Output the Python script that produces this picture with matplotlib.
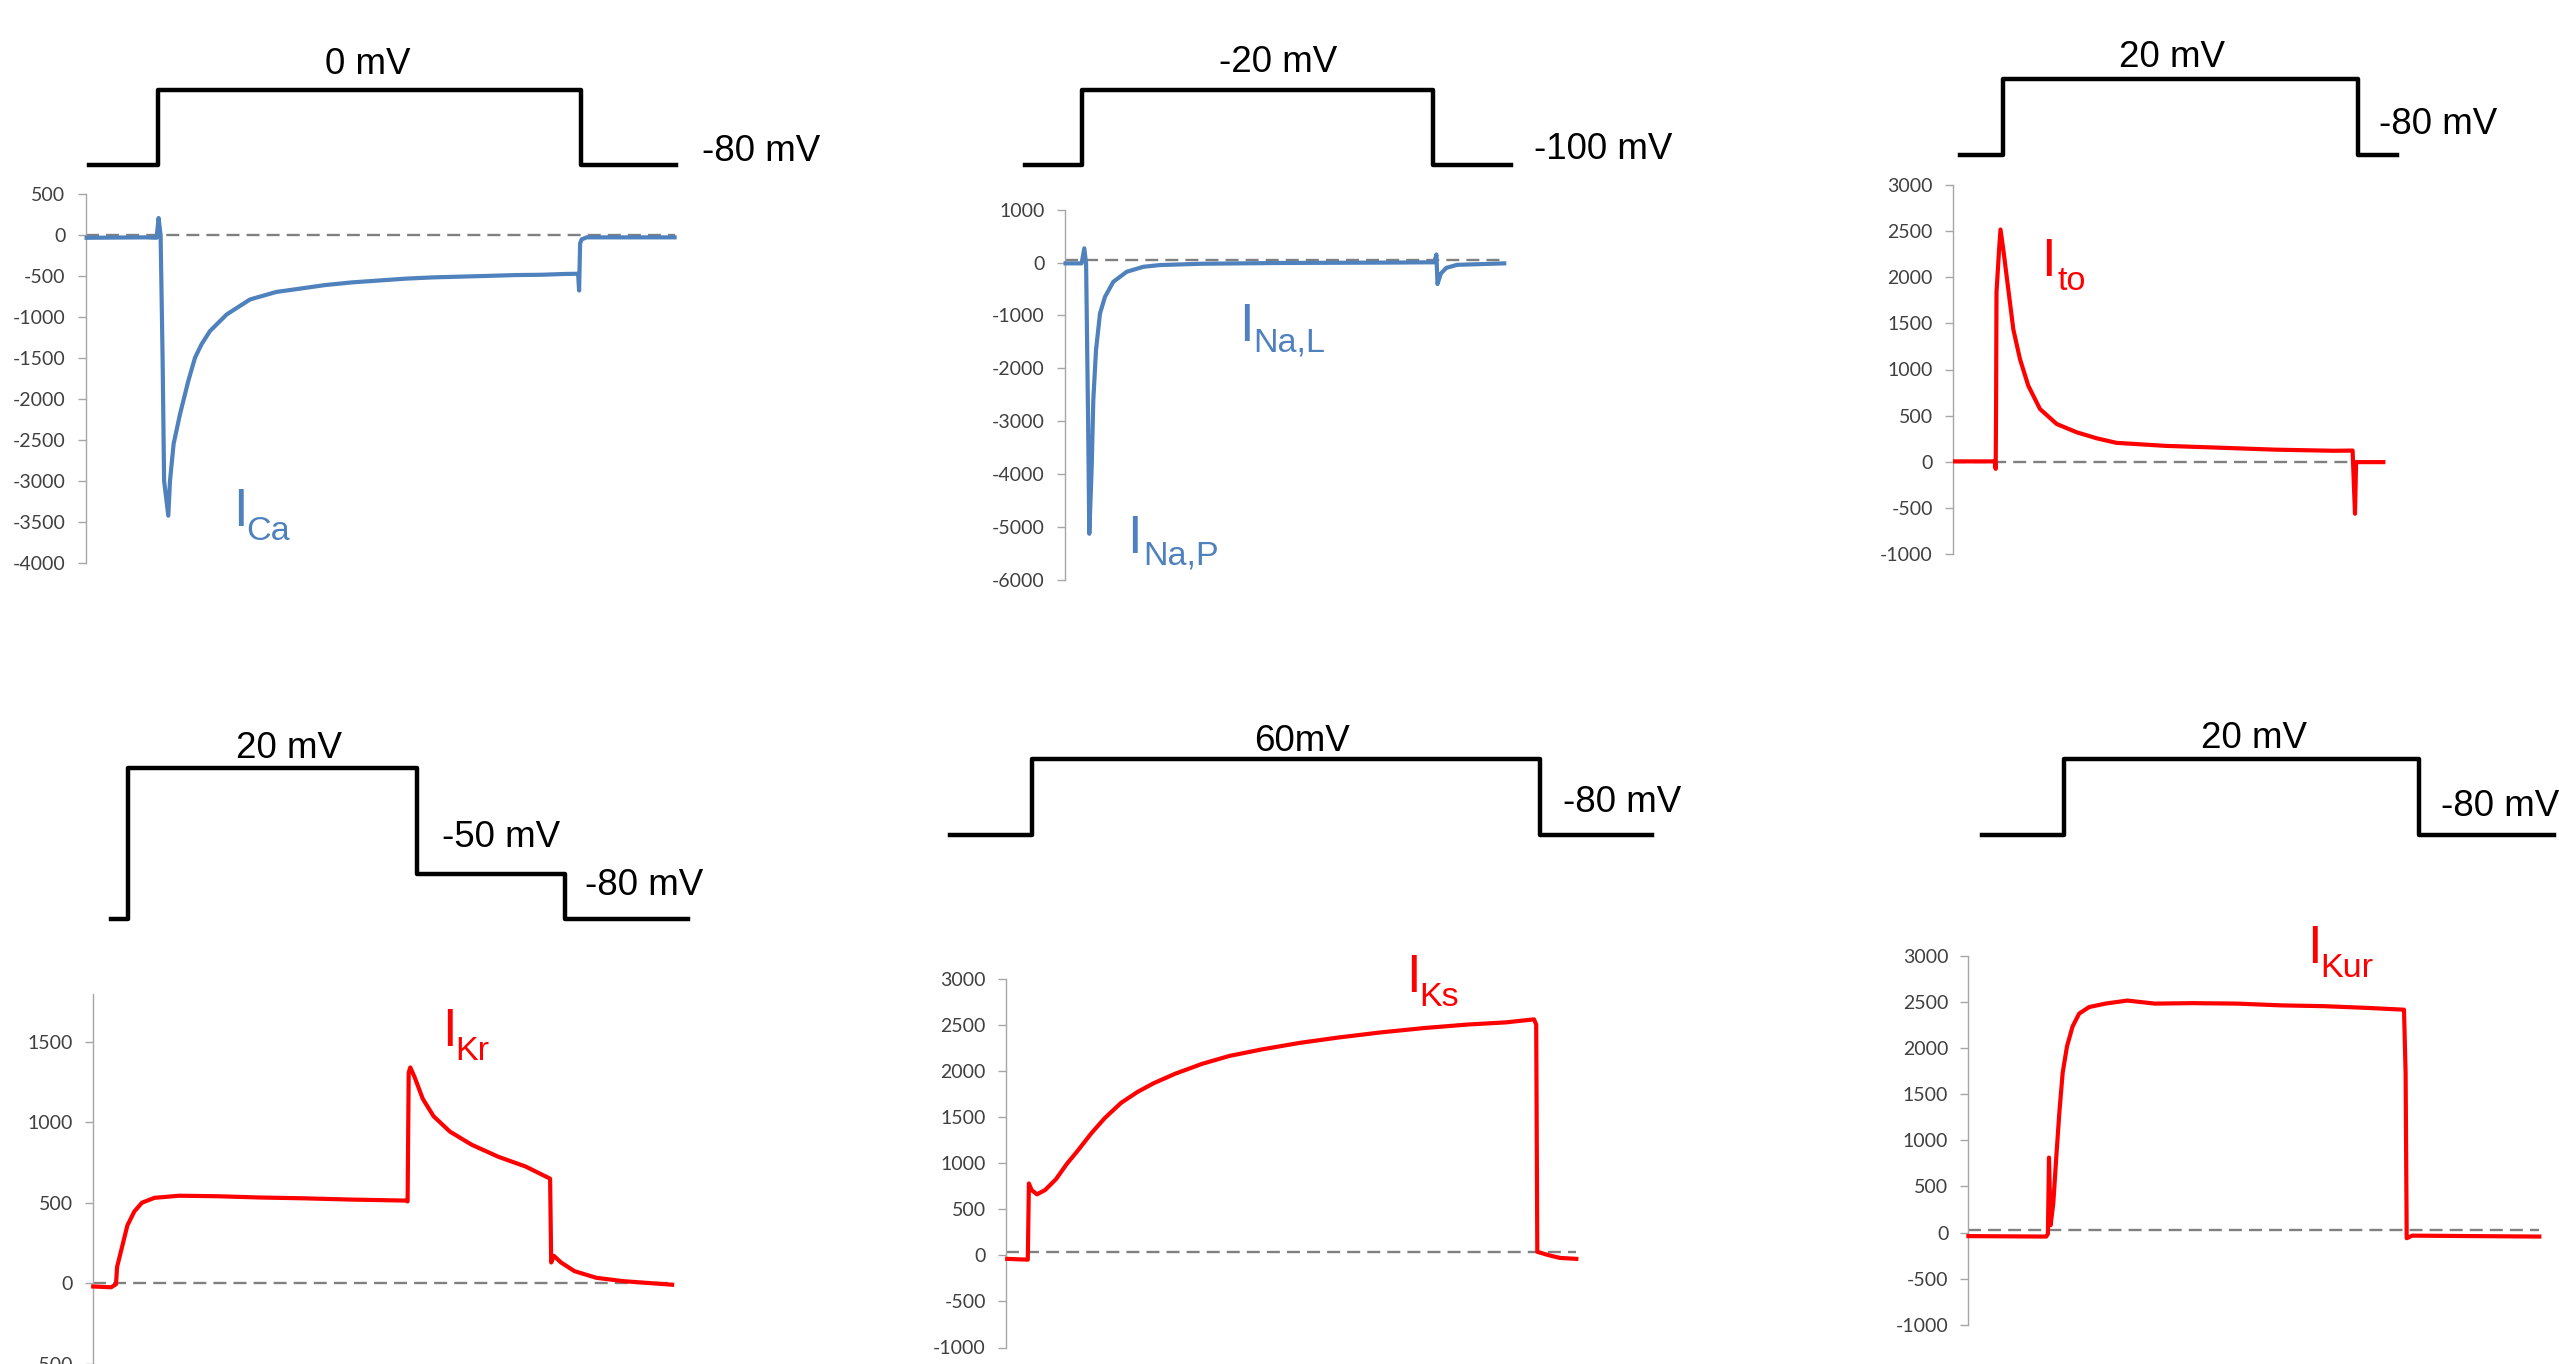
import matplotlib
matplotlib.use("Agg")
import matplotlib.pyplot as plt

plt.rcParams['axes.unicode_minus'] = False

W, H = 2559, 1364

# ---- voltage protocols (ms, mV) ----
ica_step_t = [3, 72, 495, 590]
ica_step_v = [-80, 0, -80]
ina_step_t = [-40, 17, 368, 446]
ina_step_v = [-100, -20, -100]
ito_step_t = [7, 50, 405, 444]
ito_step_v = [-80, 20, -80]
ikr_step_t = [18, 35, 324, 472, 595]
ikr_step_v = [-80, 20, -50, -80]
iks_step_t = [-56, 26, 534, 646]
iks_step_v = [-80, 60, -80]
ikur_step_t = [14, 96, 451, 586]
ikur_step_v = [-80, 20, -80]

# ---- current traces (ms, pA) ----
ica_t = [1, 60, 71, 73, 75, 77, 78.5, 82.7, 84.4, 88, 94.4, 102.7, 109.4, 116, 124.4,
         141.1, 164.4, 190.8, 212.5, 239.6, 266.7, 293.8, 320.9, 348.0, 375.1, 402.2,
         429.3, 456.4, 480, 492.5, 493.5, 494.5, 496, 501, 540, 589]
ica_i = [-30, -25, -30, 211, 0, -1500, -3000, -3427, -3000, -2550, -2186, -1780, -1496,
         -1330, -1170, -967, -784, -692, -655, -608, -575, -552, -529, -514, -505, -496,
         -486, -482, -472, -470, -675, -100, -50, -25, -25, -25]

ina_t = [1, 17, 19.7, 21.5, 23.5, 24.7, 27.1, 28.7, 31.4, 35.4, 40.4, 48.7, 62.1, 78.7,
         95.4, 137.7, 219, 327, 369.7, 371.8, 372.9, 376.2, 381.6, 392.4, 439.6]
ina_i = [-15, -15, 269, -20, -3000, -5129, -3867, -2604, -1657, -962, -648, -364, -174,
         -80, -47, -22, -7, 0, 5, 152, -406, -210, -101, -43, -15]

ito_t = [2, 41.6, 42.6, 43.0, 43.4, 46, 47.4, 50.2, 55.2, 60.2, 66.9, 75.2, 86.9, 103.6,
         123.6, 143.6, 163.2, 212.5, 267.3, 322.1, 380, 399.5, 401.9, 403, 430.2]
ito_i = [5, 5, -76, 645, 1833, 2300, 2516, 2300, 1868, 1436, 1112, 824, 572, 410, 320,
         255, 206, 173, 153, 132, 120, 122, -562, -3, -3]

ikr_t = [0, 17.9, 22.8, 23.9, 28.8, 34.2, 41.2, 48.8, 61.3, 85.7, 123.6, 167, 210.3,
         259.1, 312.2, 314.4, 315.5, 317.1, 321.4, 329.6, 340.4, 356.7, 378.3, 405.4,
         432.5, 456.9, 458, 460.7, 467.8, 481.3, 503, 530.1, 578.9]
ikr_i = [-19, -24, -5, 103, 225, 360, 447, 501, 531, 544, 541, 533, 528, 520, 514, 509,
         1307, 1340, 1280, 1145, 1037, 942, 861, 785, 725, 650, 130, 171, 130, 76, 35,
         14, -8]

iks_t = [1.1, 21.7, 22.8, 25.5, 30.9, 39, 49.9, 60.7, 71.5, 85.1, 98.6, 114.9, 131.2,
         147.4, 169.1, 196.2, 223.3, 255.8, 293.8, 331.7, 375.1, 418.4, 461.8, 499.7,
         527.9, 530.1, 531.2, 543.1, 553.9, 570.2]
iks_i = [-38, -47, 780, 709, 662, 709, 827, 992, 1134, 1323, 1489, 1654, 1772, 1867,
         1971, 2079, 2164, 2235, 2306, 2363, 2420, 2467, 2505, 2528, 2561, 2505, 38, 0,
         -28, -38]

ikur_t = [0, 77.8, 79.5, 80.6, 82.2, 84.9, 87.7, 91, 94.3, 98.6, 104.1, 110.7, 120.6,
          137, 158.9, 186.3, 224.6, 268.5, 312.3, 356.1, 399.9, 435.6, 437.2, 438.3,
          443.8, 570.9]
ikur_i = [-38, -43, -14, 813, 80, 317, 789, 1309, 1734, 2018, 2231, 2372, 2443, 2481,
          2514, 2481, 2486, 2481, 2462, 2453, 2434, 2415, 1734, -61, -33, -43]

# zero reference (dashed) per panel, pA
zero_lines = [0, 47, 0, 0, 33, 24]

BLUE = '#4F81BD'
RED = '#FF0000'

# layout in pixels: spine x, t_end, axis top/bottom px, ylim, ticks, protocol top/bottom px
panels = [
    dict(t=ica_t, i=ica_i, st=ica_step_t, sv=ica_step_v, color=BLUE,
         x0=85.6, tend=589, top=194.4, bot=562.6, ylim=(-4000, 500),
         ticks=range(-4000, 501, 500), ptop=90, pbot=165),
    dict(t=ina_t, i=ina_i, st=ina_step_t, sv=ina_step_v, color=BLUE,
         x0=1064.6, tend=439.6, top=209.7, bot=579.8, ylim=(-6000, 1000),
         ticks=range(-6000, 1001, 1000), ptop=90, pbot=165),
    dict(t=ito_t, i=ito_i, st=ito_step_t, sv=ito_step_v, color=RED,
         x0=1953.1, tend=430.2, top=184.8, bot=554.2, ylim=(-1000, 3000),
         ticks=range(-1000, 3001, 500), ptop=79.2, pbot=155),
    dict(t=ikr_t, i=ikr_i, st=ikr_step_t, sv=ikr_step_v, color=RED,
         x0=93.2, tend=578.9, top=994.1, bot=1444.6, ylim=(-1000, 1795),
         ticks=range(-1000, 1501, 500), ptop=768.1, pbot=918.7),
    dict(t=iks_t, i=iks_i, st=iks_step_t, sv=iks_step_v, color=RED,
         x0=1006.1, tend=570.2, top=978.9, bot=1347.5, ylim=(-1000, 3000),
         ticks=range(-1000, 3001, 500), ptop=759.4, pbot=834.9),
    dict(t=ikur_t, i=ikur_i, st=ikur_step_t, sv=ikur_step_v, color=RED,
         x0=1968.4, tend=570.9, top=955.7, bot=1324.9, ylim=(-1000, 3000),
         ticks=range(-1000, 3001, 500), ptop=759.4, pbot=834.9),
]

# protocol labels: (text, x px, baseline px, ha)
volt_labels = [
    ('0 mV', 368, 74, 'center'), ('-80 mV', 702, 161, 'left'),
    ('-20 mV', 1278, 72, 'center'), ('-100 mV', 1534, 159, 'left'),
    ('20 mV', 2172, 67, 'center'), ('-80 mV', 2379, 134, 'left'),
    ('20 mV', 289, 758, 'center'), ('-50 mV', 442, 847, 'left'),
    ('-80 mV', 585, 895, 'left'),
    ('60mV', 1302, 751, 'center'), ('-80 mV', 1563, 812, 'left'),
    ('20 mV', 2254, 748, 'center'), ('-80 mV', 2441, 816, 'left'),
]

# current names: (subscript, color, I x, I baseline, sub x, sub baseline)
current_labels = [
    ('Ca', BLUE, 233.5, 526, 246, 540),
    ('Na,P', BLUE, 1127, 553, 1143, 564.5),
    ('Na,L', BLUE, 1239, 340.6, 1253, 352),
    ('to', RED, 2041, 275.5, 2057, 289.7),
    ('Kr', RED, 442, 1046.5, 455.5, 1059.6),
    ('Ks', RED, 1406, 992, 1419, 1006),
    ('Kur', RED, 2307.5, 962.7, 2320.5, 976.7),
]

fig = plt.figure(figsize=(W / 100, H / 100), dpi=100)


def box(left, top, width, bottom):
    return [left / W, 1 - bottom / H, width / W, (bottom - top) / H]


for p, z in zip(panels, zero_lines):
    ax = fig.add_axes(box(p['x0'], p['top'], p['tend'], p['bot']))
    ax.plot(p['t'], p['i'], color=p['color'], lw=3.0, clip_on=False, zorder=3,
            solid_joinstyle='round')
    ax.axhline(z, color='#808080', lw=1.7, dashes=(5.5, 3), zorder=2, clip_on=False)
    ax.set_xlim(0, p['tend'])
    ax.set_ylim(*p['ylim'])
    ax.set_yticks(list(p['ticks']))
    for s in ['top', 'right', 'bottom']:
        ax.spines[s].set_visible(False)
    ax.spines['left'].set_color('#A6A6A6')
    ax.spines['left'].set_linewidth(1.0)
    ax.tick_params(axis='y', length=5.5, width=1.0, color='#A6A6A6', pad=9,
                   labelsize=14, labelcolor='#404040')
    for lab in ax.get_yticklabels():
        lab.set_family('Lato')
    ax.set_xticks([])
    ax.patch.set_alpha(0)

    # voltage protocol above the trace
    pax = fig.add_axes(box(p['x0'], p['ptop'], p['tend'], p['pbot']))
    pax.step(p['st'], p['sv'] + [p['sv'][-1]], where='post', color='black', lw=3.2,
             clip_on=False)
    pax.set_xlim(0, p['tend'])
    pax.set_ylim(min(p['sv']), max(p['sv']))
    pax.axis('off')

for s, x, y, ha in volt_labels:
    fig.text(x / W, 1 - y / H, s, ha=ha, va='baseline', fontsize=26.5,
             family='Liberation Sans', color='black')

for sub, c, xi, yi, xs, ys in current_labels:
    fig.text(xi / W, 1 - yi / H, 'I', ha='left', va='baseline', fontsize=37.8,
             family='Liberation Sans', color=c)
    fig.text(xs / W, 1 - ys / H, sub, ha='left', va='baseline', fontsize=24.6,
             family='Liberation Sans', color=c)

fig.savefig('out.png', dpi=100)
